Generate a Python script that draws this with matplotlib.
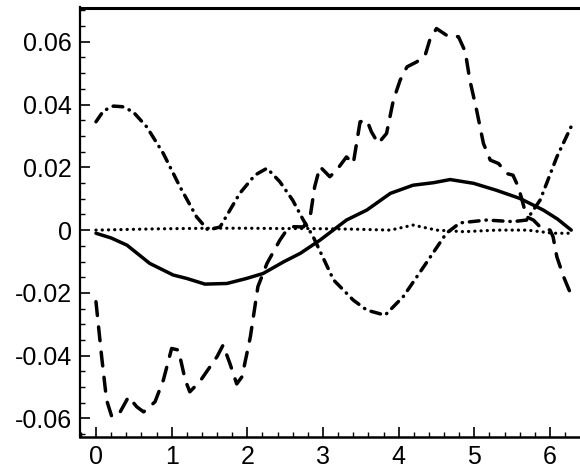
import numpy as np
import matplotlib
matplotlib.use('Agg')
import matplotlib.pyplot as plt
from matplotlib.ticker import MultipleLocator

plt.rcParams['font.family'] = ['Liberation Sans', 'DejaVu Sans']
plt.rcParams['font.size'] = 18

# solid curve
x_solid = [0, 0.2, 0.41, 0.71, 1.02, 1.2, 1.44, 1.73, 1.99, 2.21, 2.48, 2.7, 2.96, 3.31, 3.58, 3.89,
           4.19, 4.46, 4.68, 4.99, 5.29, 5.6, 5.91, 6.1, 6.28]
y_solid = [-0.001, -0.0025, -0.0048, -0.0106, -0.0143, -0.0154, -0.0172, -0.017, -0.0154, -0.0138,
           -0.0101, -0.0074, -0.0032, 0.0032, 0.0064, 0.0117, 0.0143, 0.0151, 0.0161, 0.0149,
           0.0127, 0.0101, 0.0064, 0.0035, 0.0]

# dotted curve
x_dot = [0, 0.8, 1.5, 2.0, 2.43, 2.8, 3.4, 3.89, 4.19, 4.5, 4.86, 5.3, 5.7, 6.04, 6.28]
y_dot = [0.0, 0.0004, 0.0006, 0.0006, 0.0005, 0.0005, 0.0003, 0.0, 0.0016, 0.0, -0.0005,
         0.0, 0.0, -0.001, -0.001]

# dash-dot curve
x_dd = [0, 0.1, 0.23, 0.35, 0.49, 0.67, 0.89, 1.11, 1.33, 1.48, 1.64, 1.9, 2.1, 2.26, 2.43,
        2.6, 2.74, 2.87, 3.14, 3.4, 3.58, 3.82, 4.06, 4.33, 4.63, 4.81, 5.16, 5.51, 5.69,
        5.87, 6.09, 6.28]
y_dd = [0.0345, 0.038, 0.0395, 0.0393, 0.0377, 0.0329, 0.0244, 0.0138, 0.0042, 0.0, 0.001,
        0.0117, 0.0175, 0.0197, 0.0154, 0.0095, 0.0032, -0.0021, -0.0159, -0.0223, -0.0255,
        -0.0271, -0.0212, -0.0117, -0.001, 0.0023, 0.0032, 0.0027, 0.0032, 0.0096, 0.0233,
        0.033]

# dashed curve
x_dash = [0, 0.075, 0.14, 0.21, 0.32, 0.43, 0.54, 0.63, 0.78, 0.89, 1.0, 1.09, 1.18, 1.24,
          1.37, 1.6, 1.68, 1.77, 1.86, 1.93, 2.04, 2.14, 2.26, 2.43, 2.52, 2.59, 2.74, 2.83,
          2.89, 2.96, 3.09, 3.18, 3.31, 3.4, 3.49, 3.58, 3.64, 3.73, 3.84, 3.93, 4.02, 4.11,
          4.24, 4.35, 4.41, 4.5, 4.63, 4.79, 4.88, 4.94, 5.03, 5.12, 5.21, 5.32, 5.43, 5.51,
          5.58, 5.63, 5.69, 5.78, 5.87, 6.0, 6.04, 6.09, 6.18, 6.28]
y_dash = [-0.0228, -0.0403, -0.0541, -0.0595, -0.0579, -0.0531, -0.0563, -0.0579, -0.0547,
          -0.0478, -0.0377, -0.0382, -0.0478, -0.0515, -0.0483, -0.0403, -0.0366, -0.0425,
          -0.049, -0.0467, -0.034, -0.018, -0.0106, -0.0032, 0.0, 0.0011, 0.001, 0.0042,
          0.0138, 0.0202, 0.017, 0.0191, 0.0233, 0.0212, 0.0345, 0.035, 0.0313, 0.0276,
          0.0308, 0.0414, 0.0478, 0.052, 0.0536, 0.0557, 0.0605, 0.0642, 0.0621, 0.0616,
          0.0568, 0.0478, 0.0382, 0.0276, 0.0223, 0.0212, 0.018, 0.0175, 0.0138, 0.0096,
          0.0042, 0.0032, 0.001, 0.0, -0.0021, -0.0085, -0.0149, -0.0207]

fig = plt.figure(figsize=(5.8, 4.72), dpi=100)
ax = fig.add_axes([80/580, 1 - 436.7/472, 1 - 80/580, (436.7 - 7.5)/472])

lw = 2.5
ax.plot(x_solid, y_solid, color='k', linewidth=lw, linestyle='-', solid_capstyle='round')
ax.plot(x_dot, y_dot, color='k', linewidth=2.3, linestyle=(0, (0.05, 1.9)),
        dash_capstyle='round')
ax.plot(x_dd, y_dd, color='k', linewidth=lw, linestyle=(0, (2.8, 2.0, 0.1, 2.0)),
        dash_capstyle='round')
ax.plot(x_dash, y_dash, color='k', linewidth=lw, linestyle=(0, (4.0, 3.3)),
        dash_capstyle='round')

ax.set_xlim(-0.211, 6.396)
ax.set_ylim(-0.0658, 0.0709)

ax.xaxis.set_major_locator(MultipleLocator(1))
ax.xaxis.set_minor_locator(MultipleLocator(0.2))
ax.yaxis.set_major_locator(MultipleLocator(0.02))
ax.yaxis.set_minor_locator(MultipleLocator(0.005))

def fmt(v, pos):
    if abs(v) < 1e-9:
        return '0'
    return '%.2f' % v
ax.yaxis.set_major_formatter(plt.FuncFormatter(fmt))
ax.xaxis.set_major_formatter(plt.FuncFormatter(lambda v, p: '%d' % round(v)))

ax.tick_params(which='major', direction='in', length=7, width=1.2, pad=6)
ax.tick_params(which='minor', direction='in', length=3.5, width=1.0)
ax.tick_params(top=False, right=False)

ax.spines['right'].set_visible(False)
ax.spines['left'].set_linewidth(1.6)
ax.spines['bottom'].set_linewidth(1.8)
ax.spines['top'].set_linewidth(2.2)

fig.savefig('out.png', dpi=100)
